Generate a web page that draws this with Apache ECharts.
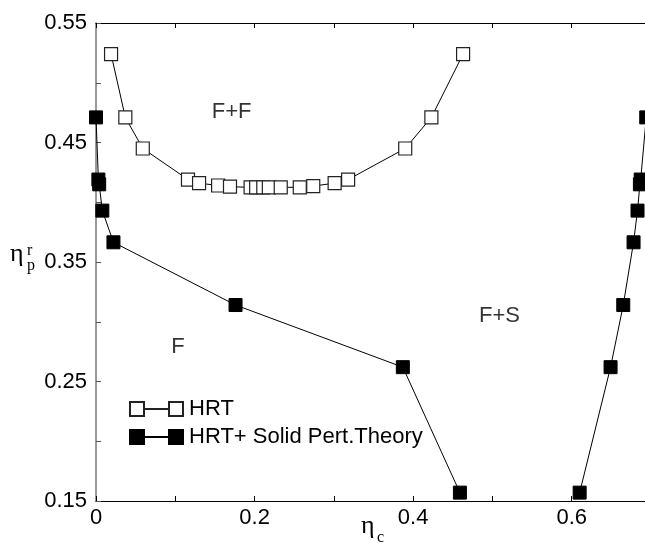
<!DOCTYPE html>
<html>
<head>
<meta charset="utf-8">
<script src="https://cdn.jsdelivr.net/npm/echarts@6/dist/echarts.min.js"></script>
<style>
  html, body { margin: 0; padding: 0; background: #fff; }
  #chart { width: 645px; height: 543px; }
</style>
</head>
<body>
<div id="chart"></div>
<script>
  // HRT (open squares), fluid-fluid boundary
  var hrtX = [0.019, 0.037, 0.059, 0.116, 0.130, 0.154, 0.169, 0.195, 0.202, 0.211, 0.218, 0.233, 0.257, 0.274, 0.301, 0.318, 0.390, 0.423, 0.463];
  var hrtY = [0.524, 0.471, 0.445, 0.419, 0.416, 0.414, 0.413, 0.4125, 0.4125, 0.4125, 0.4125, 0.4125, 0.4125, 0.4135, 0.416, 0.419, 0.445, 0.471, 0.524];

  // HRT + solid perturbation theory (filled squares), fluid branch and solid branch
  var fluidX = [0.000, 0.003, 0.004, 0.008, 0.022, 0.176, 0.387, 0.459];
  var fluidY = [0.471, 0.419, 0.415, 0.393, 0.3665, 0.314, 0.262, 0.157];
  var solidX = [0.610, 0.649, 0.665, 0.678, 0.683, 0.686, 0.687, 0.694];
  var solidY = [0.157, 0.262, 0.314, 0.3665, 0.393, 0.415, 0.419, 0.471];

  // region labels (data coordinates)
  var regionNames = ['F+F', 'F', 'F+S'];
  var regionX = [0.171, 0.1035, 0.509];
  var regionY = [0.4755, 0.279, 0.305];

  function pairs(xs, ys) {
    var out = [];
    for (var i = 0; i < xs.length; i++) out.push([xs[i], ys[i]]);
    return out;
  }

  var font = 'Liberation Sans, Arial, Helvetica, sans-serif';
  var serif = 'Liberation Serif, DejaVu Serif, serif';

  var regionData = [];
  for (var i = 0; i < regionNames.length; i++) {
    regionData.push({ value: [regionX[i], regionY[i]], name: regionNames[i] });
  }

  var chart = echarts.init(document.getElementById('chart'));
  chart.setOption({
    animation: false,
    grid: { left: 96, right: -6, top: 23, bottom: 42, containLabel: false, outerBoundsMode: 'none' },
    xAxis: [{
      type: 'value', min: 0, max: 0.7, interval: 0.1,
      axisLine: { lineStyle: { color: '#000', width: 1.2 } },
      axisTick: { inside: true, length: 5, lineStyle: { color: '#000' } },
      splitLine: { show: false },
      axisLabel: {
        margin: 6, color: '#000', fontSize: 22, fontFamily: font,
        formatter: function (v) {
          return Math.round(v * 10) % 2 === 0 ? String(+v.toFixed(1)) : '';
        }
      }
    }, {
      type: 'value', min: 0, max: 0.7, interval: 0.1, position: 'top',
      axisLine: { lineStyle: { color: '#000', width: 1.2 } },
      axisTick: { inside: true, length: 5, lineStyle: { color: '#000' } },
      axisLabel: { show: false },
      splitLine: { show: false }
    }],
    yAxis: {
      type: 'value', min: 0.15, max: 0.55, interval: 0.05,
      axisLine: { lineStyle: { color: '#777', width: 1.5 } },
      axisTick: { inside: true, length: 5, lineStyle: { color: '#555' } },
      splitLine: { show: false },
      axisLabel: {
        margin: 9, color: '#000', fontSize: 22, fontFamily: font,
        formatter: function (v) {
          return Math.round(v * 100) % 10 === 5 ? v.toFixed(2) : '';
        }
      }
    },
    legend: {
      orient: 'vertical', left: 129, top: 398, padding: 0, itemGap: 6,
      itemWidth: 53, itemHeight: 14,
      icon: 'path://M0,0H14V14H0ZM39,0H53V14H39ZM14,7H39',
      textStyle: { fontSize: 22, fontFamily: font, color: '#000', padding: [0, 0, 0, 1] },
      data: ['HRT', 'HRT+ Solid Pert.Theory']
    },
    graphic: [
      { type: 'text', left: 10, top: 241, style: { text: 'η', font: '26px ' + serif, fill: '#000' } },
      { type: 'text', left: 27, top: 243, style: { text: 'r', font: '16px ' + serif, fill: '#000' } },
      { type: 'text', left: 27, top: 258, style: { text: 'p', font: '16px ' + serif, fill: '#000' } },
      { type: 'text', left: 361, top: 513, style: { text: 'η', font: '26px ' + serif, fill: '#000' } },
      { type: 'text', left: 377, top: 530, style: { text: 'c', font: '16px ' + serif, fill: '#000' } }
    ],
    series: [{
      name: 'HRT', type: 'line', data: pairs(hrtX, hrtY),
      symbol: 'rect', symbolSize: 13,
      itemStyle: { color: '#fff', borderColor: '#222', borderWidth: 1.2 },
      lineStyle: { color: '#000', width: 1 }
    }, {
      name: 'HRT+ Solid Pert.Theory', type: 'line', data: pairs(fluidX, fluidY),
      symbol: 'rect', symbolSize: 13,
      itemStyle: { color: '#000', borderColor: '#000', borderWidth: 1 },
      lineStyle: { color: '#000', width: 1 }
    }, {
      name: 'HRT+ Solid Pert.Theory', type: 'line', data: pairs(solidX, solidY),
      symbol: 'rect', symbolSize: 13,
      itemStyle: { color: '#000', borderColor: '#000', borderWidth: 1 },
      lineStyle: { color: '#000', width: 1 }
    }, {
      name: 'regions', type: 'scatter', data: regionData,
      symbolSize: 0, silent: true,
      label: {
        show: true, position: 'inside', formatter: '{b}',
        color: '#000', fontSize: 22, fontFamily: font
      }
    }]
  });
</script>
</body>
</html>
